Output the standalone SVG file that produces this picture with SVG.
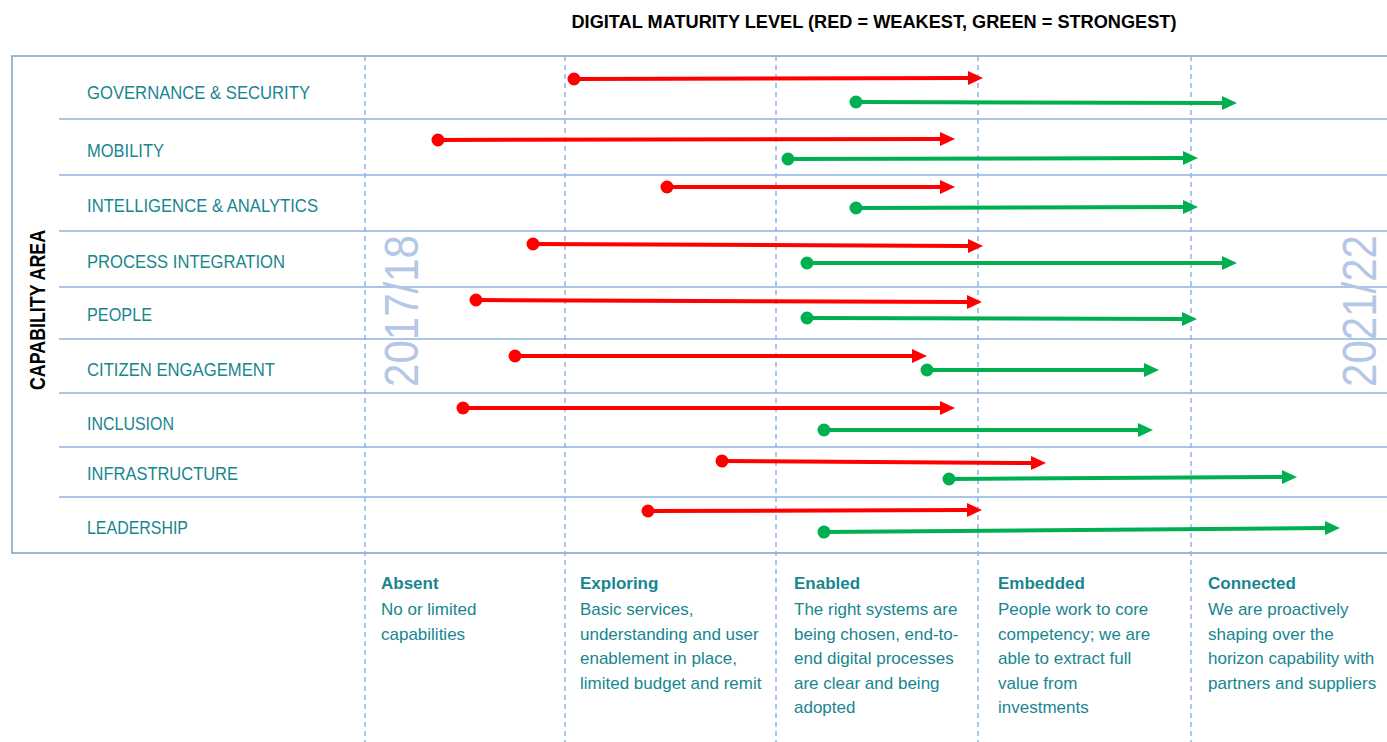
<svg xmlns="http://www.w3.org/2000/svg" width="1387" height="742" viewBox="0 0 1387 742">
<style>
.lbl{font-family:"Liberation Sans",Arial,sans-serif;font-size:19px;fill:#17868f}
.hd{font-family:"Liberation Sans",Arial,sans-serif;font-size:17px;font-weight:bold;fill:#17868f}
.bd{font-family:"Liberation Sans",Arial,sans-serif;font-size:17px;fill:#17868f}
.yr{font-family:"Liberation Sans",Arial,sans-serif;font-size:48px;fill:#b4c7e7}
.row{stroke:#8db3e2;stroke-width:1.5;fill:none}
.dash{stroke:#8fb5e0;stroke-width:1.5;stroke-dasharray:5 4;fill:none}
.red{stroke:#ff0000;stroke-width:4;fill:none;marker-start:url(#dotR);marker-end:url(#arrR)}
.grn{stroke:#00b050;stroke-width:4;fill:none;marker-start:url(#dotG);marker-end:url(#arrG)}
</style>
<defs>
<marker id="arrR" markerUnits="userSpaceOnUse" markerWidth="16" markerHeight="16" refX="0" refY="7" orient="auto"><path d="M0,0 L15,7 L0,14 z" fill="#ff0000"/></marker>
<marker id="arrG" markerUnits="userSpaceOnUse" markerWidth="16" markerHeight="16" refX="0" refY="7" orient="auto"><path d="M0,0 L15,7 L0,14 z" fill="#00b050"/></marker>
<marker id="dotR" markerUnits="userSpaceOnUse" markerWidth="16" markerHeight="16" refX="8" refY="8" orient="auto"><circle cx="8" cy="8" r="6.5" fill="#ff0000"/></marker>
<marker id="dotG" markerUnits="userSpaceOnUse" markerWidth="16" markerHeight="16" refX="8" refY="8" orient="auto"><circle cx="8" cy="8" r="6.5" fill="#00b050"/></marker>
</defs>
<rect width="1387" height="742" fill="#ffffff"/>
<text x="874" y="28" text-anchor="middle" textLength="605" lengthAdjust="spacingAndGlyphs" font-family="Liberation Sans, Arial, sans-serif" font-size="19" font-weight="bold" fill="#000">DIGITAL MATURITY LEVEL (RED = WEAKEST, GREEN = STRONGEST)</text>
<g id="frame">
<path d="M1387,56 H12 V553 H1387" stroke="#7f9dc6" stroke-width="1.5" fill="none"/>
<path class="row" d="M59,119 H1387 M59,175 H1387 M59,231 H1387 M59,287 H1387 M59,339 H1387 M59,393 H1387 M59,447 H1387 M59,497 H1387"/>
<path class="dash" d="M365,56 V742 M565,56 V742 M776,56 V742 M978,56 V742 M1191,56 V742"/>
<text transform="translate(45,310) rotate(-90)" text-anchor="middle" textLength="160" lengthAdjust="spacingAndGlyphs" font-family="Liberation Sans, Arial, sans-serif" font-size="22" font-weight="bold" fill="#000">CAPABILITY AREA</text>
<text class="yr" transform="translate(418,311) rotate(-90)" text-anchor="middle" textLength="152" lengthAdjust="spacingAndGlyphs">2017/18</text>
<text class="yr" transform="translate(1376,311) rotate(-90)" text-anchor="middle" textLength="152" lengthAdjust="spacingAndGlyphs">2021/22</text>
</g>
<g id="labels">
<text class="lbl" x="87" y="99" textLength="223" lengthAdjust="spacingAndGlyphs">GOVERNANCE &amp; SECURITY</text>
<text class="lbl" x="87" y="157" textLength="77" lengthAdjust="spacingAndGlyphs">MOBILITY</text>
<text class="lbl" x="87" y="212" textLength="231" lengthAdjust="spacingAndGlyphs">INTELLIGENCE &amp; ANALYTICS</text>
<text class="lbl" x="87" y="268" textLength="198" lengthAdjust="spacingAndGlyphs">PROCESS INTEGRATION</text>
<text class="lbl" x="87" y="321" textLength="65" lengthAdjust="spacingAndGlyphs">PEOPLE</text>
<text class="lbl" x="87" y="376" textLength="188" lengthAdjust="spacingAndGlyphs">CITIZEN ENGAGEMENT</text>
<text class="lbl" x="87" y="430" textLength="87" lengthAdjust="spacingAndGlyphs">INCLUSION</text>
<text class="lbl" x="87" y="480" textLength="151" lengthAdjust="spacingAndGlyphs">INFRASTRUCTURE</text>
<text class="lbl" x="87" y="534" textLength="101" lengthAdjust="spacingAndGlyphs">LEADERSHIP</text>
</g>
<g id="connectors">
<path class="red" d="M574,79 L968,78"/>
<path class="grn" d="M856,102 L1222,103"/>
<path class="red" d="M438,140 L940,139"/>
<path class="grn" d="M788,159 L1183,158"/>
<path class="red" d="M667,187 L940,187"/>
<path class="grn" d="M856,208 L1183,207"/>
<path class="red" d="M533,244 L968,246"/>
<path class="grn" d="M807,263 L1222,263"/>
<path class="red" d="M476,300 L967,302"/>
<path class="grn" d="M807,318 L1182,319"/>
<path class="red" d="M515,356 L912,356"/>
<path class="grn" d="M927,370 L1144,370"/>
<path class="red" d="M463,408 L940,408"/>
<path class="grn" d="M824,430 L1138,430"/>
<path class="red" d="M722,461 L1031,463"/>
<path class="grn" d="M949,479 L1282,477"/>
<path class="red" d="M648,511 L967,510"/>
<path class="grn" d="M824,532 L1325,528"/>
</g>
<g id="legend-absent">
<text class="hd" x="381" y="589">Absent</text>
<text class="bd" x="381" y="615">No or limited</text>
<text class="bd" x="381" y="639.5">capabilities</text>
</g>
<g id="legend-exploring">
<text class="hd" x="580" y="589">Exploring</text>
<text class="bd" x="580" y="615">Basic services,</text>
<text class="bd" x="580" y="639.5">understanding and user</text>
<text class="bd" x="580" y="664">enablement in place,</text>
<text class="bd" x="580" y="688.5">limited budget and remit</text>
</g>
<g id="legend-enabled">
<text class="hd" x="794" y="589">Enabled</text>
<text class="bd" x="794" y="615">The right systems are</text>
<text class="bd" x="794" y="639.5">being chosen, end-to-</text>
<text class="bd" x="794" y="664">end digital processes</text>
<text class="bd" x="794" y="688.5">are clear and being</text>
<text class="bd" x="794" y="713">adopted</text>
</g>
<g id="legend-embedded">
<text class="hd" x="998" y="589">Embedded</text>
<text class="bd" x="998" y="615">People work to core</text>
<text class="bd" x="998" y="639.5">competency; we are</text>
<text class="bd" x="998" y="664">able to extract full</text>
<text class="bd" x="998" y="688.5">value from</text>
<text class="bd" x="998" y="713">investments</text>
</g>
<g id="legend-connected">
<text class="hd" x="1208" y="589">Connected</text>
<text class="bd" x="1208" y="615">We are proactively</text>
<text class="bd" x="1208" y="639.5">shaping over the</text>
<text class="bd" x="1208" y="664">horizon capability with</text>
<text class="bd" x="1208" y="688.5">partners and suppliers</text>
</g>
</svg>
